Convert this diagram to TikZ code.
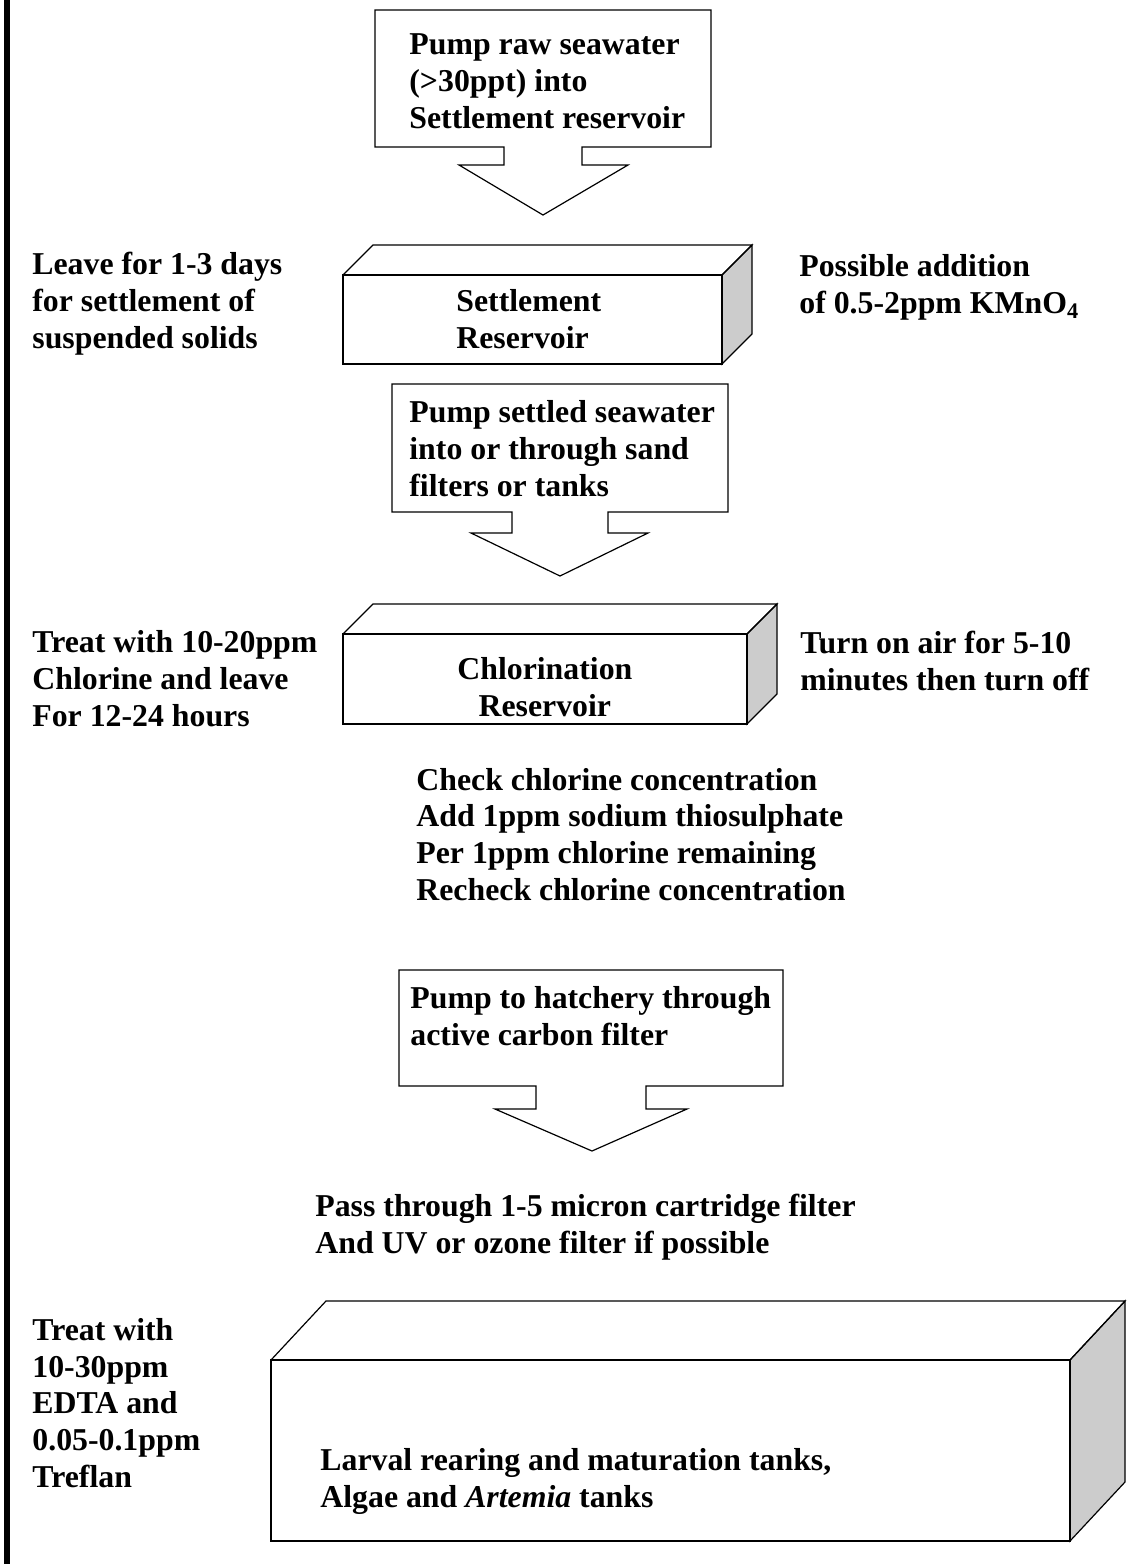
\documentclass[tikz,border=0pt]{standalone}
\usepackage{fontspec}
\setmainfont{Liberation Serif}
\tikzstyle{note} = [inner sep=0pt, anchor=base west, align=left, font=\bfseries\fontsize{15.9}{18.3}\selectfont]
\tikzstyle{outline} = [draw=black, line width=.6pt, line join=miter]
\tikzstyle{sideface} = [outline, fill=black!20]
% front corner (#1,#2), (#3,#4), depth #5 across and #6 up
\newcommand{\tank}[6]{%
	\draw[sideface] (#3,#2) -- (#3+#5,#2-#6) -- (#3+#5,#4-#6) -- (#3,#4) -- cycle;
	\draw[outline] (#1,#2) rectangle (#3,#4);
	\draw[outline] (#1,#2) -- (#1+#5,#2-#6) -- (#3+#5,#2-#6) -- (#3,#2);
}

\begin{document}
\begin{tikzpicture}[x=.5pt, y=-.5pt]
			\useasboundingbox (0,0) rectangle (1127,1564);
			\draw[line width=3pt] (7,0) -- (7,1564);
			% notes sit on the baseline of their last line
			% step 1
			\draw[outline] (375,10) -| (711,147) -| (582,165) -- (628,165) -- (543,215) -- (459,165) -- (504,165) |- (375,147) -- cycle;
			\node[note] (pumpraw) at (409,128) {Pump raw seawater\\(>30ppt) into\\Settlement reservoir};
			\tank{343}{275}{722}{364}{30}{30}
			\node[note] (settle) at (456,348) {Settlement\\Reservoir};
			\node[note] (leave) at (32,348) {Leave for 1-3 days\\for settlement of\\suspended solids};
			\node[note] (kmno) at (799,313) {Possible addition\\of 0.5-2ppm KMnO\textsubscript{4}};
			% step 2
			\draw[outline] (392,384) -| (728,512) -| (608,533) -- (648,533) -- (560,576) -- (471,533) -- (512,533) |- (392,512) -- cycle;
			\node[note] (pumpsettled) at (409,496) {Pump settled seawater\\into or through sand\\filters or tanks};
			\tank{343}{634}{747}{724}{30}{30}
			\node[note, align=center] (chlor) at (457,716) {Chlorination\\Reservoir};
			\node[note] (treatcl) at (32,726) {Treat with 10-20ppm\\Chlorine and leave\\For 12-24 hours};
			\node[note] (air) at (800,690) {Turn on air for 5-10\\minutes then turn off};
			\node[note] (check) at (416,900) {Check chlorine concentration\\Add 1ppm sodium thiosulphate\\Per 1ppm chlorine remaining\\Recheck chlorine concentration};
			% step 3
			\draw[outline] (399,970) -| (783,1086) -| (646,1109) -- (687,1109) -- (592,1151) -- (495,1109) -- (536,1109) |- (399,1086) -- cycle;
			\node[note] (pumphatch) at (410,1045) {Pump to hatchery through\\active carbon filter};
			\node[note] (pass) at (315,1253) {Pass through 1-5 micron cartridge filter\\And UV or ozone filter if possible};
			\tank{271}{1360}{1070}{1541}{55}{59}
			\node[note] (larval) at (320,1507) {Larval rearing and maturation tanks,\\Algae and \textit{Artemia} tanks};
			\node[note] (edta) at (32,1487) {Treat with\\10-30ppm\\EDTA and\\0.05-0.1ppm\\Treflan};
		\end{tikzpicture}
\end{document}
